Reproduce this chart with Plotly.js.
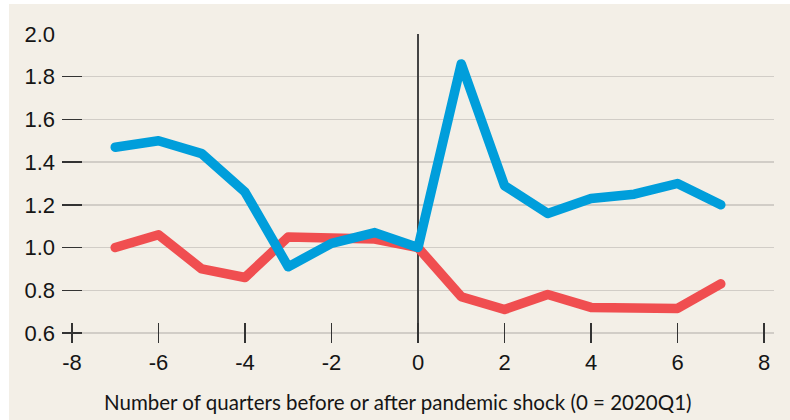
<!DOCTYPE html>
<html>
<head>
<meta charset="utf-8">
<script src="https://cdn.plot.ly/plotly-3.0.1.min.js"></script>
<style>
html, body { margin: 0; padding: 0; background: #ffffff; width: 790px; height: 420px; overflow: hidden; }
#chart { position: absolute; left: 9px; top: 4px; width: 781px; height: 416px; }
.scatterlayer path.js-line { stroke-linejoin: round; stroke-linecap: round; }
</style>
</head>
<body>
<div id="chart"></div>
<script>
const quarters = [-7, -6, -5, -4, -3, -2, -1, 0, 1, 2, 3, 4, 5, 6, 7];
const blueSeries = [1.47, 1.50, 1.44, 1.26, 0.91, 1.02, 1.07, 1.00, 1.86, 1.29, 1.16, 1.23, 1.25, 1.30, 1.20];
const redSeries  = [1.00, 1.06, 0.90, 0.86, 1.05, 1.05, 1.04, 1.00, 0.77, 0.71, 0.78, 0.72, 0.72, 0.715, 0.83];
const xTicks = [-8, -6, -4, -2, 0, 2, 4, 6, 8];
const yTicks = [0.6, 0.8, 1.0, 1.2, 1.4, 1.6, 1.8, 2.0];
const yTickText = ['0.6', '0.8', '1.0', '1.2', '1.4', '1.6', '1.8', '2.0'];
const xTitle = 'Number of quarters before or after pandemic shock (0 = 2020Q1)';

const tickFont = { family: '"Liberation Sans", Arial, sans-serif', size: 22, color: '#151515' };

const traces = [
  { x: quarters, y: redSeries, type: 'scatter', mode: 'lines',
    line: { color: '#f04e50', width: 9.5 }, hoverinfo: 'skip', cliponaxis: false },
  { x: quarters, y: blueSeries, type: 'scatter', mode: 'lines',
    line: { color: '#009edb', width: 9.5 }, hoverinfo: 'skip', cliponaxis: false }
];

const layout = {
  width: 781, height: 416,
  margin: { l: 53, r: 16, t: 30, b: 77 },
  paper_bgcolor: '#f3efe7',
  plot_bgcolor: '#f3efe7',
  showlegend: false,
  font: { family: '"Liberation Sans", Arial, sans-serif', color: '#151515', size: 22 },
  xaxis: {
    range: [-8.231, 8.231],
    tickvals: xTicks,
    ticktext: xTicks.map(String),
    ticks: 'inside', ticklen: 20, tickwidth: 1.5, tickcolor: '#333333',
    showgrid: false,
    zeroline: true, zerolinecolor: '#444444', zerolinewidth: 1.5,
    showline: false,
    ticklabelstandoff: 4,
    tickfont: tickFont
  },
  yaxis: {
    range: [0.5532, 2.0],
    tickvals: yTicks,
    ticktext: yTickText,
    ticks: 'inside', ticklen: 20, tickwidth: 1.5, tickcolor: '#333333',
    showgrid: true, gridcolor: '#d1cdc7', gridwidth: 1.5,
    zeroline: false, showline: false,
    ticklabelstandoff: 6,
    tickfont: tickFont
  },
  annotations: [{
    text: xTitle, xref: 'paper', yref: 'paper', x: 0.4726, y: -0.191,
    xanchor: 'center', yanchor: 'middle', showarrow: false,
    font: { family: 'Lato, "Open Sans", sans-serif', size: 20.5, color: '#151515' }
  }]
};

Plotly.newPlot('chart', traces, layout, { staticPlot: true, displayModeBar: false });
</script>
</body>
</html>
